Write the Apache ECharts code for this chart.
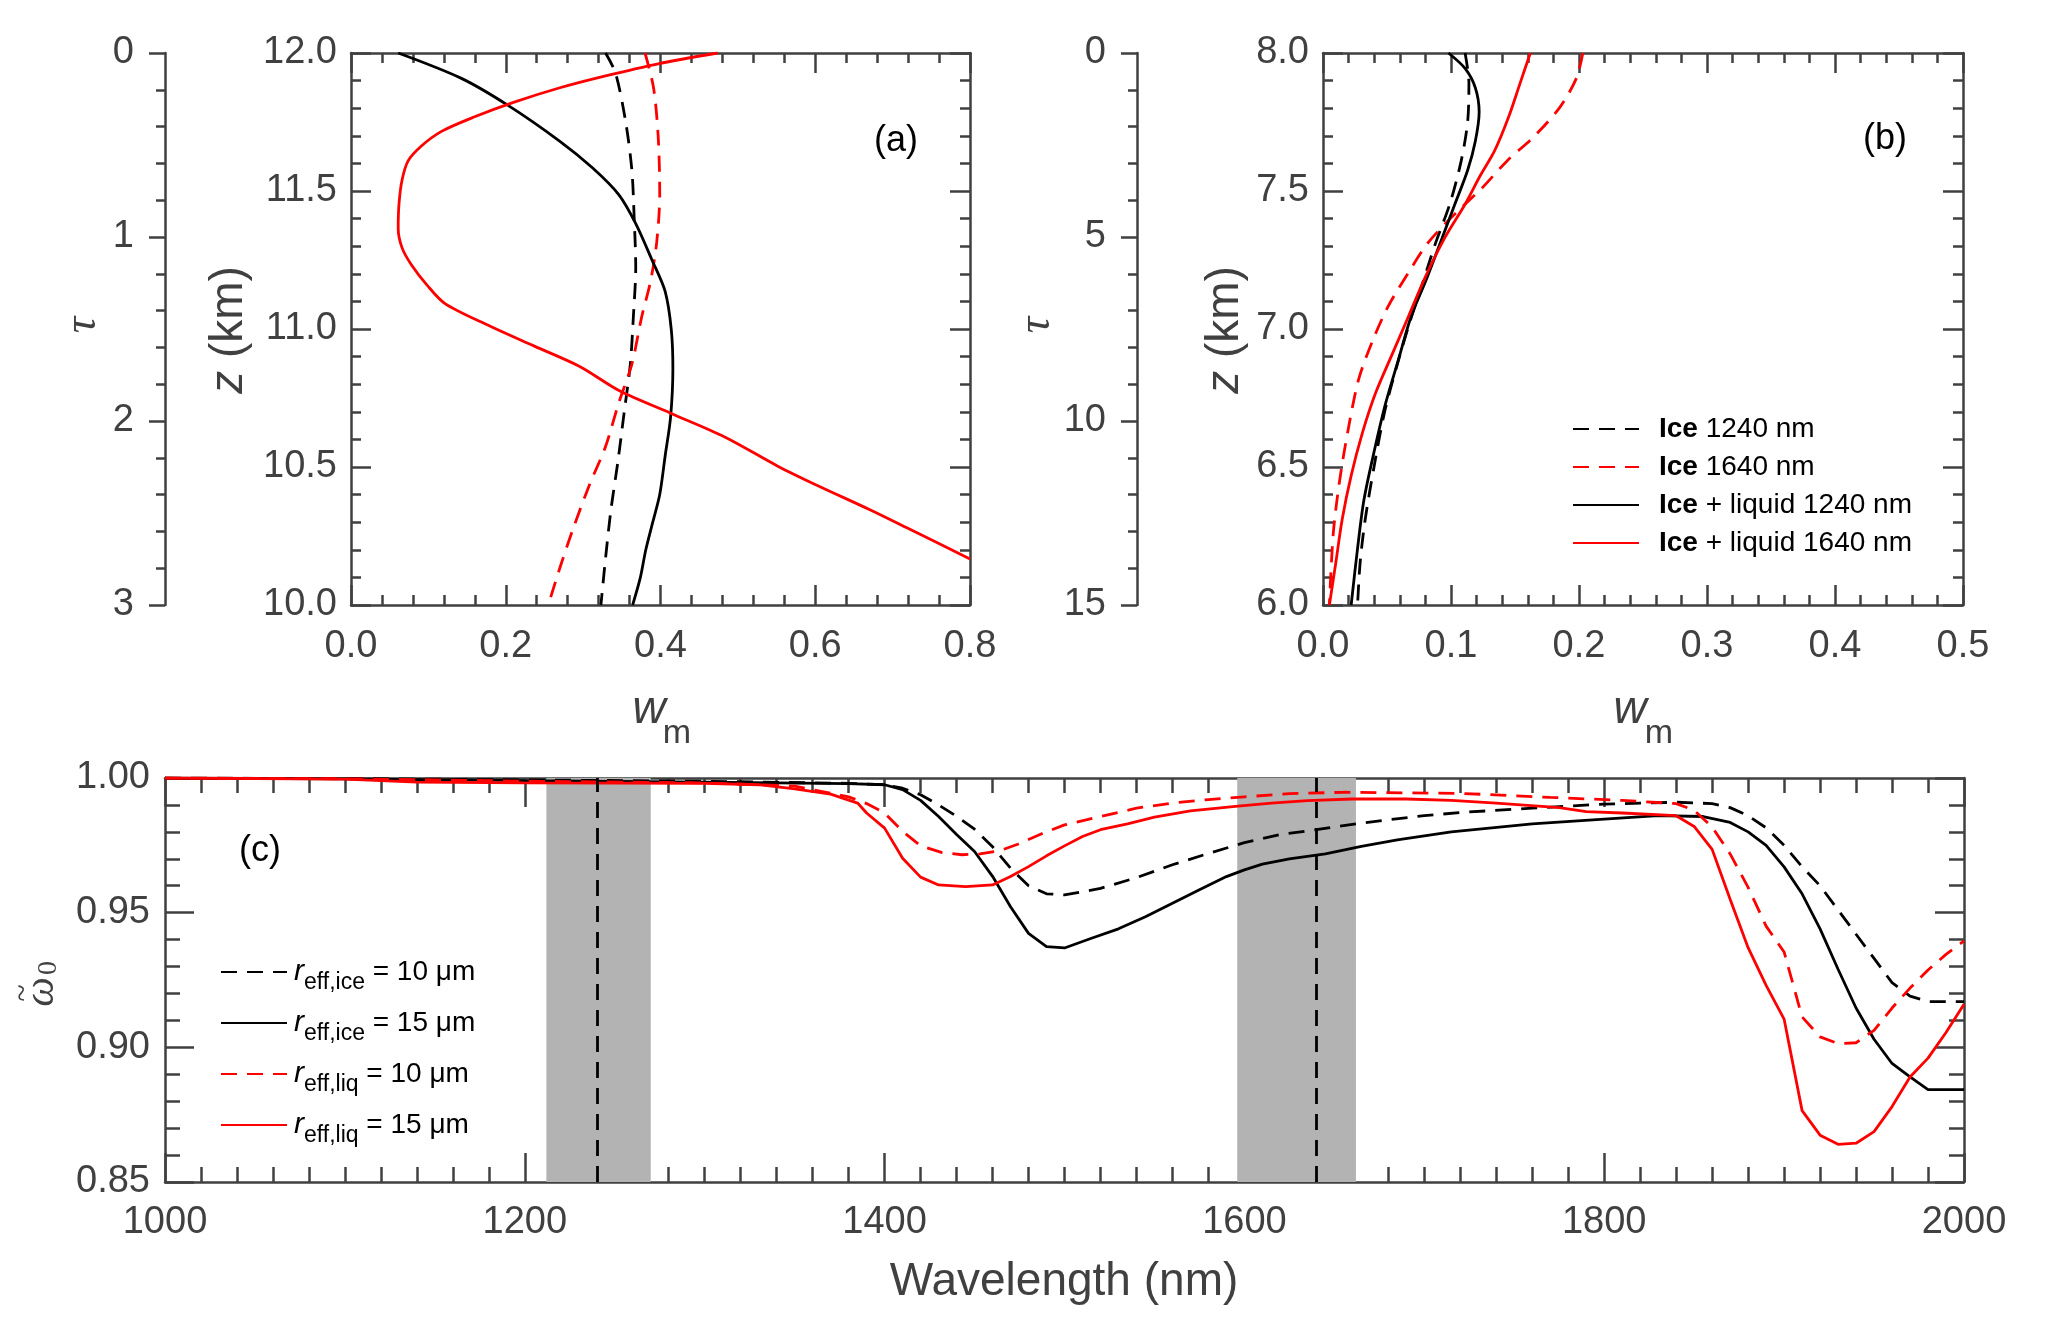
<!DOCTYPE html>
<html><head><meta charset="utf-8">
<script src="https://cdn.jsdelivr.net/npm/echarts@6/dist/echarts.min.js"></script>
<style>html,body{margin:0;padding:0;background:#fff}#c{width:2067px;height:1344px}</style>
</head><body><div id="c"></div>
<script>
// ---------- data ----------
// panel (a): [w_m, z(km)]
const aIce1240 = [[0.329,12.0],[0.342,11.926],[0.355,11.75],[0.363,11.575],[0.366,11.4],[0.368,11.224],[0.365,11.048],[0.361,10.873],[0.353,10.697],[0.345,10.521],[0.336,10.346],[0.329,10.17],[0.323,10.0]];
const aIce1640 = [[0.380,12.0],[0.391,11.874],[0.397,11.698],[0.399,11.487],[0.395,11.312],[0.387,11.171],[0.376,11.048],[0.363,10.873],[0.346,10.732],[0.329,10.574],[0.308,10.434],[0.287,10.276],[0.270,10.135],[0.255,10.0]];
const aMix1240 = [[0.061,12.0],[0.142,11.909],[0.202,11.812],[0.270,11.68],[0.312,11.584],[0.346,11.487],[0.368,11.382],[0.389,11.25],[0.406,11.136],[0.414,10.996],[0.416,10.855],[0.413,10.68],[0.406,10.54],[0.399,10.4],[0.390,10.3],[0.381,10.2],[0.374,10.1],[0.364,10.0]];
const aMix1640 = [[0.474,12.0],[0.397,11.961],[0.329,11.917],[0.270,11.874],[0.210,11.821],[0.159,11.768],[0.117,11.716],[0.091,11.663],[0.074,11.61],[0.066,11.54],[0.062,11.452],[0.061,11.364],[0.066,11.294],[0.078,11.233],[0.098,11.16],[0.122,11.091],[0.180,11.01],[0.237,10.938],[0.295,10.865],[0.347,10.776],[0.413,10.695],[0.483,10.609],[0.551,10.504],[0.602,10.434],[0.670,10.346],[0.721,10.276],[0.800,10.167]];
// panel (b): [w_m, z(km)]
const bIce1240 = [[0.111,8.0],[0.114,7.891],[0.113,7.751],[0.108,7.61],[0.099,7.452],[0.088,7.312],[0.077,7.154],[0.067,7.013],[0.057,6.855],[0.048,6.697],[0.040,6.504],[0.033,6.311],[0.029,6.153],[0.027,6.0]];
const bIce1640 = [[0.203,8.0],[0.198,7.909],[0.185,7.803],[0.165,7.698],[0.144,7.61],[0.123,7.505],[0.103,7.417],[0.082,7.312],[0.067,7.206],[0.051,7.083],[0.039,6.96],[0.028,6.82],[0.020,6.644],[0.013,6.451],[0.008,6.258],[0.005,6.0]];
const bMix1240 = [[0.098,8.0],[0.111,7.944],[0.119,7.874],[0.122,7.786],[0.119,7.68],[0.113,7.575],[0.103,7.452],[0.093,7.329],[0.080,7.171],[0.069,7.048],[0.059,6.89],[0.049,6.732],[0.040,6.557],[0.032,6.381],[0.027,6.205],[0.022,6.0]];
const bMix1640 = [[0.162,8.0],[0.154,7.891],[0.145,7.768],[0.134,7.645],[0.123,7.557],[0.111,7.452],[0.095,7.329],[0.080,7.189],[0.067,7.048],[0.054,6.908],[0.041,6.767],[0.031,6.627],[0.022,6.469],[0.015,6.311],[0.010,6.153],[0.005,6.0]];
// panel (c): [wavelength(nm), single scattering albedo]
const cIce10 = [[1000,1.0000],[1100,0.9998],[1200,0.9993],[1300,0.9988],[1380,0.9980],[1400,0.9975],[1410,0.9962],[1420,0.9938],[1430,0.9900],[1440,0.9858],[1450,0.9810],[1460,0.9745],[1470,0.9665],[1480,0.9600],[1490,0.9570],[1500,0.9566],[1520,0.9590],[1540,0.9630],[1560,0.9678],[1580,0.9720],[1600,0.9760],[1620,0.9790],[1640,0.9808],[1660,0.9828],[1680,0.9845],[1700,0.9860],[1720,0.9872],[1760,0.9888],[1800,0.9903],[1840,0.9910],[1860,0.9905],[1870,0.9890],[1880,0.9860],[1890,0.9815],[1900,0.9750],[1910,0.9670],[1920,0.9600],[1930,0.9510],[1940,0.9420],[1950,0.9330],[1960,0.9240],[1970,0.9190],[1980,0.9170],[2000,0.9170]];
const cIce15 = [[1000,1.0000],[1100,0.9997],[1200,0.9990],[1300,0.9985],[1380,0.9979],[1400,0.9975],[1410,0.9957],[1420,0.9917],[1430,0.9857],[1440,0.9790],[1450,0.9727],[1460,0.9635],[1470,0.9522],[1480,0.9423],[1490,0.9374],[1500,0.9369],[1515,0.9405],[1530,0.9440],[1545,0.9485],[1560,0.9535],[1575,0.9585],[1590,0.9634],[1600,0.9659],[1610,0.9680],[1625,0.9700],[1645,0.9718],[1665,0.9746],[1685,0.9770],[1715,0.9800],[1760,0.9830],[1800,0.9847],[1830,0.9860],[1855,0.9857],[1870,0.9835],[1880,0.9800],[1890,0.9750],[1900,0.9670],[1910,0.9570],[1920,0.9440],[1930,0.9290],[1940,0.9146],[1950,0.9030],[1960,0.8940],[1970,0.8890],[1980,0.8843],[2000,0.8843]];
const cLiq10 = [[1000,1.0000],[1100,0.9997],[1150,0.9993],[1200,0.9988],[1300,0.9982],[1350,0.9970],[1380,0.9930],[1390,0.9905],[1400,0.9870],[1410,0.9802],[1420,0.9748],[1432,0.9723],[1443,0.9715],[1453,0.9718],[1464,0.9730],[1474,0.9754],[1487,0.9792],[1500,0.9826],[1520,0.9857],[1540,0.9888],[1560,0.9907],[1580,0.9920],[1600,0.9930],[1625,0.9942],[1655,0.9947],[1690,0.9945],[1720,0.9943],[1770,0.9928],[1810,0.9917],[1840,0.9905],[1850,0.9880],[1860,0.9818],[1870,0.9718],[1880,0.9594],[1890,0.9450],[1900,0.9354],[1910,0.9113],[1920,0.9039],[1930,0.9014],[1940,0.9017],[1950,0.9063],[1960,0.9146],[1970,0.9220],[1980,0.9287],[1990,0.9345],[2000,0.9395]];
const cLiq15 = [[1000,1.0000],[1100,0.9996],[1140,0.9985],[1200,0.9982],[1300,0.9980],[1330,0.9975],[1350,0.9960],[1370,0.9940],[1385,0.9907],[1390,0.9870],[1400,0.9814],[1410,0.9702],[1420,0.9632],[1430,0.9603],[1445,0.9597],[1460,0.9603],[1470,0.9634],[1480,0.9671],[1490,0.9711],[1500,0.9748],[1510,0.9783],[1520,0.9808],[1535,0.9830],[1550,0.9855],[1570,0.9878],[1595,0.9895],[1615,0.9907],[1635,0.9916],[1660,0.9922],[1690,0.9922],[1715,0.9917],[1740,0.9907],[1775,0.9890],[1790,0.9875],[1810,0.9870],[1840,0.9860],[1850,0.9820],[1860,0.9735],[1870,0.9550],[1880,0.9370],[1890,0.9230],[1900,0.9105],[1910,0.8765],[1920,0.8674],[1930,0.8640],[1940,0.8644],[1950,0.8687],[1960,0.8780],[1970,0.8890],[1980,0.8960],[1990,0.9055],[2000,0.9160]];
const bands = [[1212,1270],[1596,1662]];
const bandCenters = [1240,1640];
const namesAB = ['Ice 1240 nm','Ice 1640 nm','Ice + liquid 1240 nm','Ice + liquid 1640 nm'];
const namesC = ['r eff,ice = 10 μm','r eff,ice = 15 μm','r eff,liq = 10 μm','r eff,liq = 15 μm'];

// ---------- styles ----------
const AX = '#404040';
const FONT = 'Liberation Sans, Arial, sans-serif';
const SERIF = 'Liberation Serif, Times New Roman, serif';
const DASH = [16,10];
const LW = 2.8;
const TF = 38;

function axis(o) {
  return {
    type:'value', gridIndex:o.grid, min:o.min, max:o.max, interval:o.interval,
    position:o.pos, offset:o.offset||0, inverse:!!o.inverse,
    axisLine:{show:true, onZero:false, lineStyle:{color:AX, width:2.5}},
    axisTick:{show:true, inside:o.inside!==false, length:o.tl, lineStyle:{color:AX, width:2.5}},
    minorTick:{show:true, splitNumber:o.split, length:o.ml, lineStyle:{color:AX, width:2.5}},
    axisLabel:{show:!!o.label, fontSize:TF, color:AX, fontFamily:FONT, margin:o.margin||23,
      showMinLabel:true, showMaxLabel:true, formatter:v => (+v).toFixed(o.dec||0)},
    splitLine:{show:false}, minorSplitLine:{show:false}, splitArea:{show:false}
  };
}

const xAxis = [
  axis({grid:0,min:0,max:0.8,interval:0.2,pos:'bottom',tl:20,ml:10,split:5,label:true,dec:1,margin:23}),
  axis({grid:0,min:0,max:0.8,interval:0.2,pos:'top',tl:20,ml:10,split:5}),
  axis({grid:1,min:0,max:0.5,interval:0.1,pos:'bottom',tl:20,ml:10,split:5,label:true,dec:1,margin:23}),
  axis({grid:1,min:0,max:0.5,interval:0.1,pos:'top',tl:20,ml:10,split:5}),
  axis({grid:2,min:1000,max:2000,interval:200,pos:'bottom',tl:29,ml:15,split:10,label:true,dec:0,margin:22}),
  axis({grid:2,min:1000,max:2000,interval:200,pos:'top',tl:29,ml:15,split:10})
];
const yAxis = [
  axis({grid:0,min:10,max:12,interval:0.5,pos:'left',tl:20,ml:10,split:5,label:true,dec:1,margin:14}),
  axis({grid:0,min:10,max:12,interval:0.5,pos:'right',tl:20,ml:10,split:5}),
  axis({grid:0,min:0,max:3,interval:1,pos:'left',offset:186,inverse:true,inside:false,tl:16,ml:9,split:5,label:true,dec:0,margin:31}),
  axis({grid:1,min:6,max:8,interval:0.5,pos:'left',tl:20,ml:10,split:5,label:true,dec:1,margin:14}),
  axis({grid:1,min:6,max:8,interval:0.5,pos:'right',tl:20,ml:10,split:5}),
  axis({grid:1,min:0,max:15,interval:5,pos:'left',offset:186,inverse:true,inside:false,tl:16,ml:9,split:5,label:true,dec:0,margin:31}),
  axis({grid:2,min:0.85,max:1.0,interval:0.05,pos:'left',tl:29,ml:15,split:5,label:true,dec:2,margin:15}),
  axis({grid:2,min:0.85,max:1.0,interval:0.05,pos:'right',tl:29,ml:15,split:5})
];

function line(name, data, xi, yi, color, dashed, smooth) {
  return {type:'line', name, data, xAxisIndex:xi, yAxisIndex:yi, showSymbol:false, symbol:'none',
    smooth: smooth ? 0.3 : false, clip:true, z:3,
    lineStyle:{color, width:LW, type: dashed ? DASH : 'solid'}, itemStyle:{color}};
}

const series = [
  line(namesAB[0], aIce1240, 0, 0, '#000', true, true),
  line(namesAB[1], aIce1640, 0, 0, '#f00', true, true),
  line(namesAB[2], aMix1240, 0, 0, '#000', false, true),
  line(namesAB[3], aMix1640, 0, 0, '#f00', false, true),
  line(namesAB[0], bIce1240, 2, 3, '#000', true, true),
  line(namesAB[1], bIce1640, 2, 3, '#f00', true, true),
  line(namesAB[2], bMix1240, 2, 3, '#000', false, true),
  line(namesAB[3], bMix1640, 2, 3, '#f00', false, true),
  {type:'line', name:'bands', data:[], xAxisIndex:4, yAxisIndex:6, z:-2, silent:true,
    markArea:{silent:true, itemStyle:{color:'#b3b3b3', opacity:1},
      data: bands.map(b => [{xAxis:b[0]},{xAxis:b[1]}])}},
  {type:'line', name:'centers', data:[], xAxisIndex:4, yAxisIndex:6, z:-1, silent:true,
    markLine:{silent:true, symbol:['none','none'], label:{show:false},
      lineStyle:{color:'#000', width:LW, type:DASH},
      data: bandCenters.map(c => ({xAxis:c}))}},
  line(namesC[0], cIce10, 4, 6, '#000', true, false),
  line(namesC[1], cIce15, 4, 6, '#000', false, false),
  line(namesC[2], cLiq10, 4, 6, '#f00', true, false),
  line(namesC[3], cLiq15, 4, 6, '#f00', false, false)
];

const hideSym = {opacity:0, color:'transparent', borderWidth:0};
const legend = [
  {data:namesAB, orient:'vertical', left:1572, top:414, padding:0, itemWidth:66, itemHeight:30, itemGap:8,
    selectedMode:false, itemStyle:hideSym,
    formatter: n => '{b|Ice}{n|' + n.slice(3) + '}',
    textStyle:{fontSize:28, color:'#000', fontFamily:FONT, lineHeight:30,
      rich:{b:{fontSize:28, fontWeight:'bold', color:'#000', fontFamily:FONT, lineHeight:30, padding:[0,0,0,15]},
            n:{fontSize:28, color:'#000', fontFamily:FONT, lineHeight:30}}}},
  {data:namesC, orient:'vertical', left:220, top:950, padding:0, itemWidth:66, itemHeight:44, itemGap:7,
    selectedMode:false, itemStyle:hideSym,
    formatter: n => { const p = n.slice(2).split(' = '); return '{r|r}{s|' + p[0] + '}{t| = ' + p[1] + '}'; },
    textStyle:{fontSize:28, color:'#000', fontFamily:FONT, lineHeight:44,
      rich:{r:{fontSize:30, fontStyle:'italic', color:'#000', fontFamily:FONT, lineHeight:44, padding:[0,0,0,2]},
            s:{fontSize:23, color:'#000', fontFamily:FONT, lineHeight:24, verticalAlign:'bottom'},
            t:{fontSize:28, color:'#000', fontFamily:FONT, lineHeight:44}}}}
];

function txt(x, y, text, size, extra) {
  return Object.assign({type:'text', x, y, silent:true,
    style:Object.assign({text, fontSize:size, fontFamily:FONT, fill:AX, align:'center', verticalAlign:'middle'}, extra||{})});
}
const rot = Math.PI/2;
const graphic = [
  Object.assign(txt(83, 325, 'τ', 46, {fontFamily:SERIF, fontStyle:'italic'}), {rotation:rot}),
  Object.assign(txt(1037, 325, 'τ', 46, {fontFamily:SERIF, fontStyle:'italic'}), {rotation:rot}),
  Object.assign(txt(229, 330, '{i|z} (km)', 46, {rich:{i:{fontStyle:'italic', fontSize:46, fontFamily:FONT, fill:AX}}}), {rotation:rot}),
  Object.assign(txt(1225, 330, '{i|z} (km)', 46, {rich:{i:{fontStyle:'italic', fontSize:46, fontFamily:FONT, fill:AX}}}), {rotation:rot}),
  txt(649, 710, 'w', 46, {fontStyle:'italic'}),
  txt(677, 734, 'm', 34),
  txt(1630, 710, 'w', 46, {fontStyle:'italic'}),
  txt(1659, 734, 'm', 34),
  txt(1064, 1282, 'Wavelength (nm)', 46),
  txt(896, 141, '(a)', 36, {fill:'#000'}),
  txt(1885, 139, '(b)', 36, {fill:'#000'}),
  txt(260, 851, '(c)', 36, {fill:'#000'}),
  {type:'group', x:42, y:992, rotation:rot, silent:true, children:[
    txt(0, 0, 'ω', 42, {fontFamily:SERIF, fontStyle:'italic'}),
    txt(-1, -18, '~', 32, {fontFamily:SERIF}),
    txt(24, 7, '0', 28, {fontFamily:SERIF})
  ]}
];

const chart = echarts.init(document.getElementById('c'), null, {renderer:'canvas', width:2067, height:1344});
chart.setOption({
  animation:false,
  backgroundColor:'#fff',
  grid:[
    {left:351, top:53, width:619, height:552, containLabel:false, outerBoundsMode:'none'},
    {left:1323, top:53, width:640, height:552, containLabel:false, outerBoundsMode:'none'},
    {left:165, top:778, width:1799, height:404, containLabel:false, outerBoundsMode:'none'}
  ],
  xAxis, yAxis, series, legend, graphic
});
</script></body></html>
